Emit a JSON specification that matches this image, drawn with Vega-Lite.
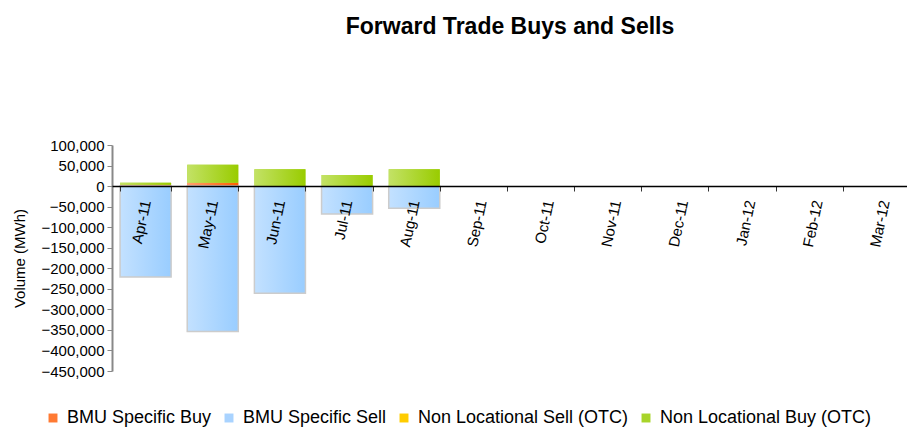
{
  "$schema": "https://vega.github.io/schema/vega-lite/v6.json",
  "autosize": "none",
  "width": 806,
  "height": 226,
  "padding": {"left": 112, "top": 145, "right": 0, "bottom": 56},
  "background": "white",
  "config": {
    "font": "Liberation Sans",
    "view": {"stroke": null}
  },
  "title": {
    "text": "Forward Trade Buys and Sells",
    "fontSize": 23,
    "font": "Liberation Sans",
    "fontWeight": "bold",
    "anchor": "middle",
    "offset": 99,
    "dx": -5,
    "color": "#000000"
  },
  "data": {
    "values": [
      {"month": "Apr-11", "series": "BMU Specific Buy", "ord": 1, "volume": 3000},
      {"month": "Apr-11", "series": "BMU Specific Sell", "ord": 2, "volume": -221000},
      {"month": "Apr-11", "series": "Non Locational Buy (OTC)", "ord": 4, "volume": 5000},
      {"month": "May-11", "series": "BMU Specific Buy", "ord": 1, "volume": 8000},
      {"month": "May-11", "series": "BMU Specific Sell", "ord": 2, "volume": -354000},
      {"month": "May-11", "series": "Non Locational Buy (OTC)", "ord": 4, "volume": 44000},
      {"month": "Jun-11", "series": "BMU Specific Sell", "ord": 2, "volume": -261000},
      {"month": "Jun-11", "series": "Non Locational Buy (OTC)", "ord": 4, "volume": 41000},
      {"month": "Jul-11", "series": "BMU Specific Sell", "ord": 2, "volume": -68000},
      {"month": "Jul-11", "series": "Non Locational Buy (OTC)", "ord": 4, "volume": 27000},
      {"month": "Aug-11", "series": "BMU Specific Sell", "ord": 2, "volume": -54000},
      {"month": "Aug-11", "series": "Non Locational Buy (OTC)", "ord": 4, "volume": 41000}
    ]
  },
  "encoding": {
    "x": {
      "field": "month",
      "type": "nominal",
      "sort": null,
      "scale": {
        "domain": ["Apr-11", "May-11", "Jun-11", "Jul-11", "Aug-11", "Sep-11", "Oct-11", "Nov-11", "Dec-11", "Jan-12", "Feb-12", "Mar-12"],
        "paddingInner": 0.24,
        "paddingOuter": 0.12
      },
      "axis": {
        "title": null,
        "offset": -185,
        "tickBand": "extent",
        "labelAngle": -78,
        "labelAlign": "right",
        "labelBaseline": "middle",
        "labelPadding": 9,
        "labelFontSize": 15,
        "labelColor": "#000000",
        "labelFont": "Liberation Sans",
        "domainColor": "#000000",
        "domainWidth": 1.5,
        "tickColor": "#333333",
        "tickSize": 5,
        "tickWidth": 1,
        "zindex": 2
      }
    },
    "y": {
      "field": "volume",
      "type": "quantitative",
      "stack": "zero",
      "scale": {"domain": [-450000, 100000], "nice": false},
      "axis": {
        "title": "Volume (MWh)",
        "titleFontSize": 15,
        "titleFontWeight": "normal",
        "titleFont": "Liberation Sans",
        "titleColor": "#000000",
        "titlePadding": 14,
        "values": [100000, 50000, 0, -50000, -100000, -150000, -200000, -250000, -300000, -350000, -400000, -450000],
        "format": ",d",
        "labelFontSize": 15,
        "labelColor": "#000000",
        "labelFont": "Liberation Sans",
        "labelPadding": 3,
        "grid": false,
        "domainColor": "#888888",
        "domainWidth": 2,
        "tickColor": "#888888",
        "tickSize": 5
      }
    },
    "order": {"field": "ord", "type": "quantitative", "sort": "ascending"}
  },
  "layer": [
    {
      "mark": {"type": "bar"},
      "encoding": {
        "color": {
          "field": "series",
          "type": "nominal",
          "scale": {
            "domain": ["BMU Specific Buy", "BMU Specific Sell", "Non Locational Sell (OTC)", "Non Locational Buy (OTC)"],
            "range": ["#ff7a33", "#a9d3ff", "#ffcc00", "#a8d42a"]
          },
          "legend": {
            "title": null,
            "orient": "none",
            "direction": "horizontal",
            "legendX": -68,
            "legendY": 264,
            "symbolType": "square",
            "symbolSize": 80,
            "symbolStrokeWidth": 0,
            "labelFontSize": 18,
            "labelFont": "Liberation Sans",
            "labelColor": "#000000",
            "labelLimit": 400,
            "labelOffset": 5,
            "columnPadding": 8
          }
        }
      }
    },
    {
      "mark": {"type": "bar"},
      "encoding": {
        "detail": {"field": "series", "type": "nominal"},
        "color": {
          "condition": [
            {
              "test": "datum.series === 'BMU Specific Buy'",
              "value": {"gradient": "linear", "x1": 0, "y1": 0, "x2": 1, "y2": 0, "stops": [{"offset": 0, "color": "#ffa070"}, {"offset": 1, "color": "#ff6000"}]}
            },
            {
              "test": "datum.series === 'BMU Specific Sell'",
              "value": {"gradient": "linear", "x1": 0, "y1": 0, "x2": 1, "y2": 0, "stops": [{"offset": 0, "color": "#c3e1ff"}, {"offset": 1, "color": "#99cdff"}]}
            }
          ],
          "value": {"gradient": "linear", "x1": 0, "y1": 0, "x2": 1, "y2": 0, "stops": [{"offset": 0, "color": "#c3e266"}, {"offset": 1, "color": "#99cc00"}]}
        },
        "stroke": {
          "condition": {"test": "datum.series === 'BMU Specific Sell'", "value": "#cccccc"},
          "value": null
        },
        "strokeWidth": {"value": 1.5}
      }
    }
  ]
}
